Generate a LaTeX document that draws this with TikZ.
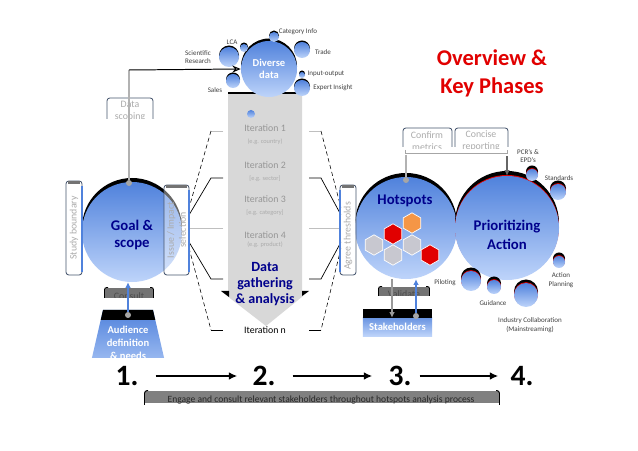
\documentclass[tikz,border=0pt]{standalone}
\usepackage{fontspec}
\setmainfont{Carlito}
\definecolor{hs_navy}{RGB}{0, 0, 140}
\definecolor{hs_red}{RGB}{225, 0, 0}
\definecolor{hs_balltop}{RGB}{80, 130, 220}
\definecolor{hs_ballbot}{RGB}{190, 212, 250}
\definecolor{hs_grey}{RGB}{150, 150, 150}
\definecolor{hs_arrow}{RGB}{216, 216, 216}
\definecolor{hs_tab}{RGB}{70, 85, 110}
\definecolor{hs_hex}{RGB}{200, 200, 208}
\definecolor{hs_orange}{RGB}{245, 150, 70}
\usepackage{tikz}
\usetikzlibrary{arrows.meta, positioning, shapes.geometric, calc}

\begin{document}
\begin{tikzpicture}[x=0.025cm, y=-0.025cm,
    ball/.style={circle, inner sep=0pt, top color=hs_balltop, bottom color=hs_ballbot},
    dot/.style={circle, inner sep=0pt, minimum size=0.15cm, fill=black!35},
    head/.style={font=\fontsize{10.5}{11.5}\selectfont\bfseries, text=hs_navy, align=center},
    lbl/.style={font=\fontsize{5}{6}\selectfont, text=black!75, align=center, inner sep=1pt},
    iter/.style={font=\fontsize{7}{8}\selectfont, text=hs_grey},
    eg/.style={font=\fontsize{4.5}{5}\selectfont, text=hs_grey!80},
    tablbl/.style={font=\fontsize{7}{8.5}\selectfont, text=hs_grey!80, align=center},
    tabline/.style={draw=hs_tab, rounded corners=2pt, line width=0.6pt},
    band/.style={font=\fontsize{7}{8}\selectfont, text=black!70},
    num/.style={font=\fontsize{21}{24}\selectfont\bfseries, inner sep=0pt},
    hex/.style={regular polygon, regular polygon sides=6, shape border rotate=30,
                minimum size=0.51cm, inner sep=0pt, draw=white, line width=0.5pt}]

  \useasboundingbox (0,0) rectangle (638,451);
  \fill[white] (0,0) rectangle (638,451);

  % title
  \node[font=\fontsize{16}{20}\selectfont\bfseries, text=hs_red, align=center]
    (title) at (492,73) {Overview \&\\Key Phases};

  % ---- 2. data gathering arrow
  \fill[hs_arrow] (228,93) -- (302,93) -- (302,292) -- (308,292) -- (266,326)
    -- (222,292) -- (228,292) -- cycle;
  \draw[line width=1.5pt] (228,93) -- (302,93);
  \fill (221,291) -- (229,291) -- (229,297) -- cycle;
  \fill (302,291) -- (309,291) -- (302,296) -- cycle;
  \node[ball, minimum size=0.2cm] (itdot) at (251,114) {};
  \node[iter] (it1) at (265,128) {Iteration 1};
  \node[eg]   (eg1) at (265,142) {(e.g. country)};
  \node[iter] (it2) at (265,165) {Iteration 2};
  \node[eg]   (eg2) at (265,179) {[e.g. sector]};
  \node[iter] (it3) at (265,199) {Iteration 3};
  \node[eg]   (eg3) at (265,213) {[e.g. category]};
  \node[iter] (it4) at (265,235) {Iteration 4};
  \node[eg]   (eg4) at (265,245) {(e.g. product)};
  \node[head, font=\fontsize{10}{11.5}\selectfont\bfseries] (gather) at (265,284)
    {Data\\gathering\\\& analysis};
  \node[font=\fontsize{7}{8}\selectfont] (itn) at (265,330) {Iteration n};

  % brackets on both sides of the arrow
  \foreach \a/\b/\c in {223/211/189, 309/321/341} {
    \draw[black!25] (\a,131) -- (\b,131);
    \draw[densely dashed, line width=0.4pt] (\b,131) -- (\c,208);
    \draw[line width=0.5pt] (\a,178) -- (\b,178) -- (\c,215);
    \draw[black!25] (\a,228) -- (\c,228);
    \draw[line width=0.5pt] (\c,242) -- (\b,279) -- (\a,279);
    \draw[densely dashed, line width=0.4pt] (\c,248) -- (\b,330);
    \draw[line width=0.5pt] (\b,330) -- (\a,330);
  }

  % diverse data
  \fill[black] (269,66.5) circle[radius=28];
  \node[ball, minimum size=1.4cm] (diverse) at (269,69) {};
  \node[font=\fontsize{7.5}{8.5}\selectfont\bfseries, text=white, align=center]
    (divtxt) at (269,69) {Diverse\\data};
  \foreach \x/\y/\rad/\nm in {244/48/4/lca, 274/37/5/cat, 229/57/10/sci, 302/50/8/trade,
                              302/75/3/io, 233/81/7/sales, 302/88/8/expert} {
    \fill[black] (\x,\y-1.5) circle[radius=\rad];
    \node[ball, minimum size=2*\rad*0.025cm] (\nm) at (\x,\y) {};
  }
  \node[lbl] (lcaL) at (232,42) {LCA};
  \node[lbl] (catL) at (298,32) {Category Info};
  \node[lbl] (sciL) at (198,57) {Scientific\\Research};
  \node[lbl] (tradeL) at (323,52) {Trade};
  \node[lbl] (ioL) at (326,74) {Input-output};
  \node[lbl] (salesL) at (215,90) {Sales};
  \node[lbl] (expertL) at (333,88) {Expert Insight};

  % ---- 1. goal and scope
  \fill[black] (132,228) circle[radius=50];
  \node[ball, minimum size=2.5cm] (goal) at (132,232) {};
  \node[head] (goaltxt) at (132,235) {Goal \&\\scope};

  \draw[tabline, fill=white] (66,275) rectangle (82,181);
  \draw[black!55, line width=2.5pt] (68,182.5) -- (80,182.5);
  \draw[hs_balltop, line width=0.8pt] (82,186) -- (82,272);
  \node[tablbl, rotate=90] (study) at (74,228) {Study boundary};

  \draw[tabline, fill=white, fill opacity=0.4] (164,275) rectangle (189,185);
  \draw[black!55, line width=2.5pt] (166,186.5) -- (187,186.5);
  \draw[hs_balltop, line width=0.8pt] (189,190) -- (189,272);
  \node[tablbl, rotate=90] (issue) at (176.5,230) {Issue / Impact\\selection};

  \begin{scope}
    \clip (100,95) rectangle (160,119);
    \node[tablbl] (scoping) at (130,111) {Data\\scoping};
  \end{scope}
  \draw[tabline] (107,119) -- (107,98) -- (153,98) -- (153,119);

  \node[dot] (gdot) at (129,183) {};
  \coordinate (gbend) at (129,70);
  \draw[black!30, line width=1.2pt] (gdot) -- (gbend);
  \draw[line width=0.7pt, -{Stealth[length=6pt, width=5pt, fill=black!30]}]
    (gbend) -- (diverse.west);

  \begin{scope}
    \clip (100,285) rectangle (160,298);
    \fill[black!55] (105,288) rectangle (153,298);
    \node[band] (consult) at (129,296) {Consult};
  \end{scope}
  \draw[line width=0.6pt, rounded corners=1.5pt] (108,287.5) -- (104.5,287.5) -- (104.5,298);
  \draw[line width=0.6pt, rounded corners=1.5pt] (150,287.5) -- (153.5,287.5) -- (153.5,298);

  \begin{scope}
    \clip (80,300) rectangle (180,358);
    \shade[top color=hs_balltop, bottom color=hs_ballbot!70!hs_balltop]
      (103,310) -- (153,310) -- (165,362) -- (91,362) -- cycle;
    \fill[black] (103,310) -- (153,310) -- (155.3,320) -- (100.7,320) -- cycle;
    \node[font=\fontsize{7.5}{9.2}\selectfont\bfseries, text=white, align=center]
      (audience) at (128,343) {Audience\\definition\\\& needs};
  \end{scope}
  \node[dot] (adot) at (128,315) {};
  \draw[hs_balltop, line width=0.8pt, -{Latex[length=4pt, width=4pt]}]
    (adot) -- (adot |- goal.south);

  % ---- 3. hotspots
  \fill[black] (406,224) circle[radius=51];
  \node[ball, minimum size=2.55cm] (hot) at (406,228) {};
  \node[head] (hottxt) at (405,201) {Hotspots};
  \foreach \x/\y/\c [count=\i] in {374/245/hs_hex, 412/245/hs_hex, 393/255/hs_hex,
                                   393/234/hs_red, 430/255/hs_red, 412/223/hs_orange}
    \node[hex, fill=\c] (hex\i) at (\x,\y) {};

  \draw[tabline, fill=white, fill opacity=0.6] (340,275) rectangle (356,185);
  \draw[black!55, line width=2.5pt] (342,186.5) -- (354,186.5);
  \draw[hs_balltop, line width=0.8pt] (340,190) -- (340,272);
  \node[tablbl, rotate=90] (agree) at (348,236) {Agree thresholds};

  \begin{scope}
    \clip (395,120) rectangle (515,149);
    \node[tablbl] (confirm) at (427,141) {Confirm\\metrics};
    \node[tablbl] (concise) at (481,141) {Concise\\reporting};
  \end{scope}
  \draw[tabline] (403,147) -- (403,128) -- (452,128) -- (452,147);
  \draw[tabline] (455,147) -- (455,128) -- (508,128) -- (508,147);
  \draw[black!35] (405,150) -- (405,153) -- (507,153) -- (507,150);
  \node[dot] (hdot) at (406,180) {};
  \draw[black!30, line width=1.2pt] (hdot) -- (hdot |- confirm.south);

  \begin{scope}
    \clip (375,284) rectangle (435,296);
    \fill[black!55] (379,287) rectangle (429,296);
    \node[band] (validate) at (404,294) {Validate};
  \end{scope}
  \draw[line width=0.6pt, rounded corners=1.5pt] (382,286.5) -- (378.5,286.5) -- (378.5,296);
  \draw[line width=0.6pt, rounded corners=1.5pt] (426,286.5) -- (429.5,286.5) -- (429.5,296);

  \node[font=\fontsize{7.5}{8}\selectfont\bfseries, text=white, inner sep=0pt,
        minimum width=1.725cm, minimum height=0.45cm,
        top color=hs_balltop!85!white, bottom color=hs_ballbot] (stake) at (397.5,327) {Stakeholders};
  \fill (stake.north west) rectangle ([yshift=0.225cm]stake.north east);
  \coordinate (vd) at (392,0);
  \draw[black!40, line width=0.8pt, -{Latex[length=4pt, width=4pt]}]
    (hot.south -| vd) -- (stake.north -| vd);
  \node[dot] (sdot) at (416,316) {};
  \draw[hs_balltop, line width=0.8pt, -{Latex[length=4pt, width=4pt]}]
    (sdot) -- (sdot |- hot.south);

  % ---- 4. prioritizing action
  \fill[black] (507,223) circle[radius=52];
  \fill[hs_red] (507,227) circle[radius=52];
  \node[ball, minimum size=2.6cm] (prior) at (507,228) {};
  \node[head, font=\fontsize{10.5}{14}\selectfont\bfseries] (priortxt) at (507,235)
    {Prioritizing\\Action};
  \draw[black!60, line width=0.8pt, -{Latex[length=4pt, width=4pt]}]
    (concise.south -| prior.north) -- (prior.north);
  \foreach \x/\y/\rad/\nm in {532/175/6/pcr, 558/192/8/stand, 559/262/6/plan,
                              526/295/12/indus, 494/287/7/guide, 471/281/10/pilot} {
    \fill[black] (\x,\y-3.5) circle[radius=\rad];
    \fill[hs_red] (\x,\y-0.8) circle[radius=\rad];
    \node[ball, minimum size=2*\rad*0.025cm] (\nm) at (\x,\y) {};
  }
  \node[lbl] (pcrL) at (528,156) {PCR's \&\\EPD's};
  \node[lbl] (standL) at (559,178) {Standards};
  \node[lbl] (planL) at (561,280) {Action\\Planning};
  \node[lbl] (guideL) at (493,303) {Guidance};
  \node[lbl] (indusL) at (530,325) {Industry Collaboration\\(Mainstreaming)};
  \node[lbl] (pilotL) at (445,283) {Piloting};

  % ---- phases along the bottom
  \node[num] (n1) at (127,376) {1.};
  \node[num] (n2) at (264,376) {2.};
  \node[num] (n3) at (400,376) {3.};
  \node[num] (n4) at (522,376) {4.};
  \foreach \a/\b/\s/\e in {n1/n2/0.425cm/0.375cm, n2/n3/0.425cm/0.4cm, n3/n4/0.2cm/0.3cm}
    \draw[line width=1.4pt, -{Latex[length=6pt, width=5.5pt]}, shorten <=\s, shorten >=\e]
      (\a) -- (\b);

  \begin{scope}
    \clip (140,389) rectangle (503,403.5);
    \fill[black!50] (145,391) rectangle (499,403.5);
    \node[font=\fontsize{6.8}{8}\selectfont, text=black!85] (engage) at (321,400)
      {Engage and consult relevant stakeholders throughout hotspots analysis process};
  \end{scope}
  \draw[line width=0.7pt, rounded corners=2pt] (148,390.5) -- (144.5,390.5) -- (144.5,405);
  \draw[line width=0.7pt, rounded corners=2pt] (496,390.5) -- (499.5,390.5) -- (499.5,405);
\end{tikzpicture}
\end{document}
